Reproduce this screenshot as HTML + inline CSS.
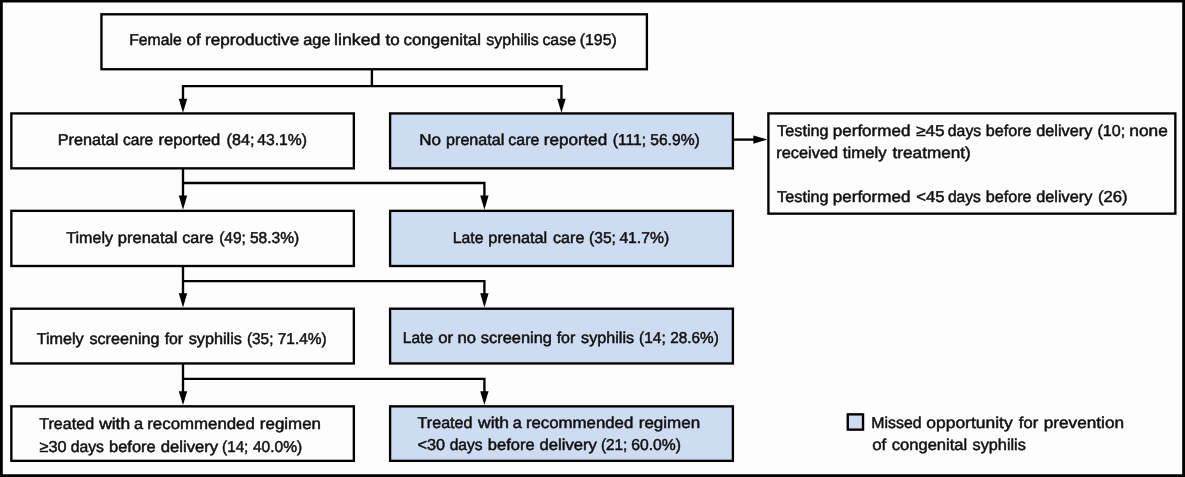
<!DOCTYPE html>
<html lang="en"><head><meta charset="utf-8"><title>Congenital syphilis flowchart</title>
<style>
html,body{margin:0;padding:0;}
body{width:1185px;height:477px;overflow:hidden;background:#fcfdfc;position:relative;font-family:"Liberation Sans",sans-serif;color:#101010;}
#fig{position:absolute;left:0;top:0;width:1185px;height:477px;}
.ln{position:absolute;left:0;width:1185px;height:20px;line-height:20px;font-size:15.8px;white-space:nowrap;text-rendering:geometricPrecision;-webkit-text-stroke:0.5px #101010;}
.w{position:absolute;top:0;display:block;height:20px;transform-origin:0 0;}
#labels{position:absolute;left:0;top:0;width:1185px;height:477px;transform:translateZ(0);will-change:transform;}
</style></head><body>
<svg id="fig" width="1185" height="477" viewBox="0 0 1185 477">
<path fill-rule="evenodd" fill="#000" d="M0 0H1185V477H0Z M2.8 2.5V474.15H1182.2V2.5Z"/>
<g stroke="#000" stroke-width="2.35" fill="none">
<rect x="101.45" y="14.30" width="545.45" height="54.95" fill="none"/>
<rect x="11.35" y="113.43" width="342.50" height="54.92" fill="none"/>
<rect x="390.10" y="113.43" width="342.80" height="54.92" fill="#cddcf0"/>
<rect x="11.35" y="210.85" width="342.50" height="55.15" fill="none"/>
<rect x="390.10" y="210.85" width="342.80" height="55.15" fill="#cddcf0"/>
<rect x="11.35" y="308.70" width="342.50" height="54.75" fill="none"/>
<rect x="390.10" y="308.70" width="342.80" height="54.75" fill="#cddcf0"/>
<rect x="11.35" y="406.35" width="342.50" height="54.50" fill="none"/>
<rect x="390.10" y="406.35" width="342.80" height="54.50" fill="#cddcf0"/>
<rect x="768.40" y="113.43" width="406.95" height="100.22" fill="none"/>
<rect x="847.75" y="414.35" width="15.30" height="15.30" fill="#cddcf0"/>
<path d="M371.9 69.25 V86.1 M183 99.7 V86.1 H561.45 V99.7"/>
<path d="M183 168.35 V196.6 M183 183.0 H484.4 V196.6"/>
<path d="M183 266.0 V294.3 M183 281.1 H484.4 V294.3"/>
<path d="M183 363.45 V392.3 M183 378.9 H484.4 V392.3"/>
<path d="M732.9 139.6 H755"/>
</g>
<path d="M178.80 98.70 H187.20 L183.00 112.70 Z" fill="#000"/>
<path d="M557.25 98.70 H565.65 L561.45 112.70 Z" fill="#000"/>
<path d="M178.80 195.60 H187.20 L183.00 209.70 Z" fill="#000"/>
<path d="M480.20 195.60 H488.60 L484.40 209.70 Z" fill="#000"/>
<path d="M178.80 293.30 H187.20 L183.00 307.40 Z" fill="#000"/>
<path d="M480.20 293.30 H488.60 L484.40 307.40 Z" fill="#000"/>
<path d="M178.80 391.30 H187.20 L183.00 405.00 Z" fill="#000"/>
<path d="M480.20 391.30 H488.60 L484.40 405.00 Z" fill="#000"/>
<path d="M753.4 135.4 V143.7 L767.3 139.55 Z" fill="#000"/>
</svg>
<div id="labels">
<div class="node">
<div class="ln" style="top:31px"><span class="w" style="left:129px;transform:translateX(0.15px) scaleX(0.9972)">Female</span> <span class="w" style="left:186px;transform:translateX(0.62px) scaleX(1.0772)">of</span> <span class="w" style="left:205px;transform:translateX(0.11px) scaleX(1.0817)">reproductive</span> <span class="w" style="left:303px;transform:translateX(0.21px) scaleX(1.0349)">age</span> <span class="w" style="left:334px;transform:translateX(0.08px) scaleX(1.1238)">linked</span> <span class="w" style="left:385px;transform:translateX(0.48px) scaleX(1.0772)">to</span> <span class="w" style="left:403px;transform:translateX(0.43px) scaleX(1.0772)">congenital</span> <span class="w" style="left:486px;transform:translateX(0.28px) scaleX(1.0150)">syphilis</span> <span class="w" style="left:542px;transform:translateX(0.38px) scaleX(1.0085)">case</span> <span class="w" style="left:579px;transform:translateX(0.80px) scaleX(1.0005)">(195)</span></div>
</div>
<div class="node">
<div class="ln" style="top:131px"><span class="w" style="left:57px;transform:translateX(0.73px) scaleX(1.0291)">Prenatal</span> <span class="w" style="left:122px;transform:translateX(0.95px) scaleX(0.9868)">care</span> <span class="w" style="left:158px;transform:translateX(0.40px) scaleX(1.0533)">reported</span> <span class="w" style="left:226px;transform:translateX(0.60px) scaleX(1.0248)">(84;</span> <span class="w" style="left:257px;transform:translateX(0.24px) scaleX(0.9940)">43.1%)</span></div>
</div>
<div class="node missed">
<div class="ln" style="top:131px"><span class="w" style="left:419px;transform:translateX(0.32px) scaleX(1.0767)">No</span> <span class="w" style="left:445px;transform:translateX(1.00px) scaleX(1.0235)">prenatal</span> <span class="w" style="left:508px;transform:translateX(0.37px) scaleX(1.0080)">care</span> <span class="w" style="left:543px;transform:translateX(0.73px) scaleX(1.0813)">reported</span> <span class="w" style="left:612px;transform:translateX(0.86px) scaleX(0.9873)">(111;</span> <span class="w" style="left:650px;transform:translateX(0.23px) scaleX(0.9891)">56.9%)</span></div>
</div>
<div class="node note">
<div class="ln" style="top:122px"><span class="w" style="left:777px;transform:translateX(0.12px) scaleX(1.0275)">Testing</span> <span class="w" style="left:832px;transform:translateX(0.78px) scaleX(1.0779)">performed</span> <span class="w" style="left:916px;transform:translateX(0.15px) scaleX(1.0866)">≥45</span> <span class="w" style="left:947px;transform:translateX(0.83px) scaleX(0.9995)">days</span> <span class="w" style="left:985px;transform:translateX(0.73px) scaleX(1.0236)">before</span> <span class="w" style="left:1036px;transform:translateX(0.25px) scaleX(1.0292)">delivery</span> <span class="w" style="left:1097px;transform:translateX(0.40px) scaleX(1.0190)">(10;</span> <span class="w" style="left:1129px;transform:translateX(0.36px) scaleX(1.0937)">none</span></div>
<div class="ln" style="top:144px"><span class="w" style="left:776px;transform:translateX(0.33px) scaleX(1.0334)">received</span> <span class="w" style="left:842px;transform:translateX(0.83px) scaleX(1.0588)">timely</span> <span class="w" style="left:892px;transform:translateX(0.54px) scaleX(1.0870)">treatment)</span></div>
<div class="ln" style="top:188px"><span class="w" style="left:777px;transform:translateX(0.12px) scaleX(1.0275)">Testing</span> <span class="w" style="left:832px;transform:translateX(0.78px) scaleX(1.0779)">performed</span> <span class="w" style="left:916px;transform:translateX(0.32px) scaleX(1.0558)">&lt;45</span> <span class="w" style="left:947px;transform:translateX(0.89px) scaleX(0.9907)">days</span> <span class="w" style="left:985px;transform:translateX(0.73px) scaleX(1.0236)">before</span> <span class="w" style="left:1036px;transform:translateX(0.25px) scaleX(1.0292)">delivery</span> <span class="w" style="left:1097px;transform:translateX(0.88px) scaleX(1.0545)">(26)</span></div>
</div>
<div class="node">
<div class="ln" style="top:229px"><span class="w" style="left:66px;transform:translateX(0.27px) scaleX(1.0186)">Timely</span> <span class="w" style="left:117px;transform:translateX(0.81px) scaleX(1.0434)">prenatal</span> <span class="w" style="left:182px;transform:translateX(0.25px) scaleX(1.0236)">care</span> <span class="w" style="left:219px;transform:translateX(0.15px) scaleX(0.9809)">(49;</span> <span class="w" style="left:249px;transform:translateX(0.90px) scaleX(0.9871)">58.3%)</span></div>
</div>
<div class="node missed">
<div class="ln" style="top:229px"><span class="w" style="left:452px;transform:translateX(0.78px) scaleX(0.9986)">Late</span> <span class="w" style="left:488px;transform:translateX(0.37px) scaleX(1.0308)">prenatal</span> <span class="w" style="left:553px;transform:translateX(0.09px) scaleX(1.0169)">care</span> <span class="w" style="left:589px;transform:translateX(0.07px) scaleX(0.9849)">(35;</span> <span class="w" style="left:619px;transform:translateX(0.38px) scaleX(0.9940)">41.7%)</span></div>
</div>
<div class="node">
<div class="ln" style="top:330px"><span class="w" style="left:36px;transform:translateX(0.64px) scaleX(1.0230)">Timely</span> <span class="w" style="left:89px;transform:translateX(0.43px) scaleX(1.0218)">screening</span> <span class="w" style="left:164px;transform:translateX(0.68px) scaleX(0.9996)">for</span> <span class="w" style="left:188px;transform:translateX(0.72px) scaleX(1.0267)">syphilis</span> <span class="w" style="left:246px;transform:translateX(0.95px) scaleX(0.9729)">(35;</span> <span class="w" style="left:277px;transform:translateX(0.76px) scaleX(0.9786)">71.4%)</span></div>
</div>
<div class="node missed">
<div class="ln" style="top:329px"><span class="w" style="left:402px;transform:translateX(0.74px) scaleX(0.9883)">Late</span> <span class="w" style="left:438px;transform:translateX(0.34px) scaleX(1.0511)">or</span> <span class="w" style="left:457px;transform:translateX(0.57px) scaleX(1.0511)">no</span> <span class="w" style="left:480px;transform:translateX(0.84px) scaleX(1.0367)">screening</span> <span class="w" style="left:556px;transform:translateX(0.68px) scaleX(1.0099)">for</span> <span class="w" style="left:581px;transform:translateX(0.12px) scaleX(1.0228)">syphilis</span> <span class="w" style="left:639px;transform:translateX(0.11px) scaleX(0.9769)">(14;</span> <span class="w" style="left:670px;transform:translateX(0.27px) scaleX(0.9694)">28.6%)</span></div>
</div>
<div class="node">
<div class="ln" style="top:415px"><span class="w" style="left:39px;transform:translateX(0.24px) scaleX(1.0186)">Treated</span> <span class="w" style="left:99px;transform:translateX(0.13px) scaleX(1.1038)">with</span> <span class="w" style="left:134px;transform:translateX(0.01px) scaleX(1.0351)">a</span> <span class="w" style="left:147px;transform:translateX(0.26px) scaleX(1.0654)">recommended</span> <span class="w" style="left:259px;transform:translateX(0.86px) scaleX(1.0714)">regimen</span></div>
<div class="ln" style="top:438px"><span class="w" style="left:39px;transform:translateX(0.58px) scaleX(1.0298)">≥30</span> <span class="w" style="left:70px;transform:translateX(0.68px) scaleX(0.9966)">days</span> <span class="w" style="left:109px;transform:translateX(0.01px) scaleX(1.0443)">before</span> <span class="w" style="left:160px;transform:translateX(0.68px) scaleX(1.0569)">delivery</span> <span class="w" style="left:222px;transform:translateX(0.06px) scaleX(0.9658)">(14;</span> <span class="w" style="left:252px;transform:translateX(0.88px) scaleX(0.9859)">40.0%)</span></div>
</div>
<div class="node missed">
<div class="ln" style="top:414px"><span class="w" style="left:417px;transform:translateX(0.62px) scaleX(1.0186)">Treated</span> <span class="w" style="left:478px;transform:translateX(0.04px) scaleX(1.1035)">with</span> <span class="w" style="left:512px;transform:translateX(0.86px) scaleX(1.0348)">a</span> <span class="w" style="left:525px;transform:translateX(0.89px) scaleX(1.0634)">recommended</span> <span class="w" style="left:638px;transform:translateX(0.72px) scaleX(1.0768)">regimen</span></div>
<div class="ln" style="top:436px"><span class="w" style="left:417px;transform:translateX(0.61px) scaleX(1.0249)">&lt;30</span> <span class="w" style="left:449px;transform:translateX(0.67px) scaleX(0.9887)">days</span> <span class="w" style="left:487px;transform:translateX(0.84px) scaleX(1.0443)">before</span> <span class="w" style="left:539px;transform:translateX(0.49px) scaleX(1.0551)">delivery</span> <span class="w" style="left:600px;transform:translateX(0.98px) scaleX(0.9685)">(21;</span> <span class="w" style="left:631px;transform:translateX(0.31px) scaleX(0.9929)">60.0%)</span></div>
</div>
<div class="legend">
<div class="ln" style="top:414px"><span class="w" style="left:871px;transform:translateX(0.31px) scaleX(1.0042)">Missed</span> <span class="w" style="left:926px;transform:translateX(0.29px) scaleX(1.1049)">opportunity</span> <span class="w" style="left:1018px;transform:translateX(0.83px) scaleX(1.0508)">for</span> <span class="w" style="left:1043px;transform:translateX(0.72px) scaleX(1.0889)">prevention</span></div>
<div class="ln" style="top:436px"><span class="w" style="left:872px;transform:translateX(0.15px) scaleX(1.0650)">of</span> <span class="w" style="left:891px;transform:translateX(0.74px) scaleX(1.0476)">congenital</span> <span class="w" style="left:972px;transform:translateX(0.56px) scaleX(1.0287)">syphilis</span></div>
</div>
</div>
</body></html>
